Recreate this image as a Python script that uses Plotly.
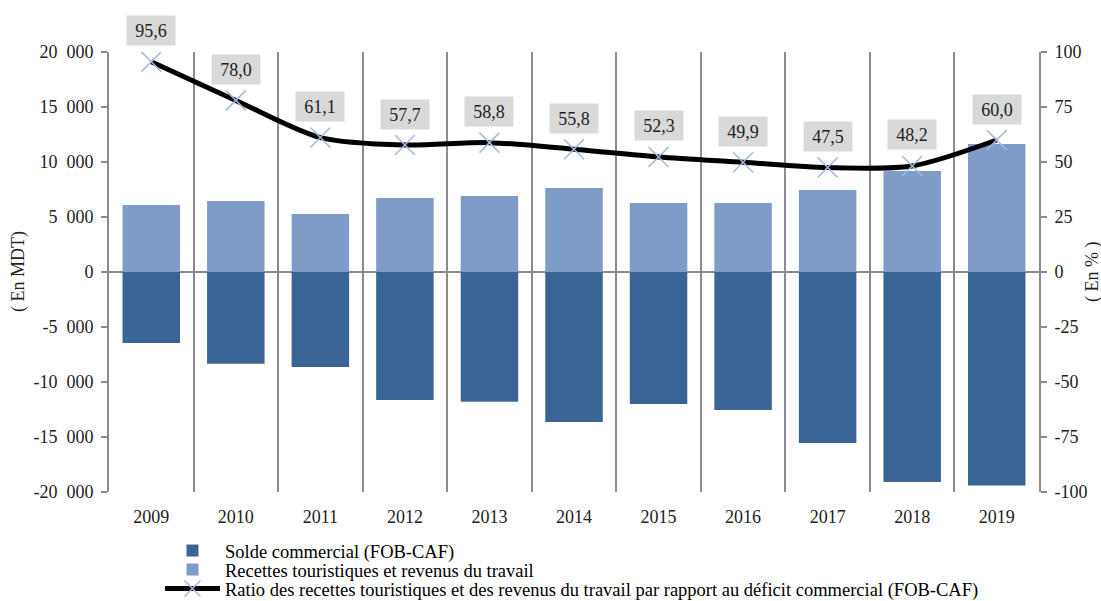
"""Balance commerciale vs recettes touristiques et revenus du travail."""

import plotly.graph_objects as go

FONT = "Liberation Serif, Times New Roman, serif"
DARK_BLUE = "#3b6496"
LIGHT_BLUE = "#7f9cc8"
CROSS_COLOR = "#a3b8dc"
AXIS_GREY = "#8c8c8c"
W, H = 1101, 601
L, R, T, B = 109, 62, 52, 109

years = ["2009", "2010", "2011", "2012", "2013", "2014",
         "2015", "2016", "2017", "2018", "2019"]
solde_commercial = [-6450, -8350, -8630, -11640, -11800, -13630,
                    -12000, -12550, -15550, -19080, -19420]
recettes = [6100, 6450, 5270, 6730, 6900, 7640,
            6270, 6280, 7450, 9180, 11640]
ratio = [95.6, 78.0, 61.1, 57.7, 58.8, 55.8, 52.3, 49.9, 47.5, 48.2, 60.0]

left_ticks = [-20000, -15000, -10000, -5000, 0, 5000, 10000, 15000, 20000]
right_ticks = [-100, -75, -50, -25, 0, 25, 50, 75, 100]


def fmt_thousands(v):
    # figure space as thousands separator, hyphen for negatives
    return f"{v:,}".replace(",", "\u2007")


fig = go.Figure()

fig.add_trace(go.Bar(
    x=years, y=solde_commercial, name="Solde commercial (FOB-CAF)",
    marker=dict(color=DARK_BLUE, line=dict(width=0)), width=0.68,
    legend="legend",
))
fig.add_trace(go.Bar(
    x=years, y=recettes, name="Recettes touristiques et revenus du travail",
    marker=dict(color=LIGHT_BLUE, line=dict(width=0)), width=0.68,
    legend="legend2",
))
fig.add_trace(go.Scatter(
    x=years, y=ratio, yaxis="y2", mode="lines+markers",
    name="Ratio des recettes touristiques et des revenus du travail par rapport au déficit commercial (FOB-CAF)",
    line=dict(color="black", width=5, shape="spline", smoothing=0.8),
    marker=dict(symbol="x-thin", size=20, line=dict(color=CROSS_COLOR, width=1.5)),
    legend="legend3",
))

# category axis: annotations take the category index
for i, r in enumerate(ratio):
    fig.add_annotation(
        x=i, y=r, yref="y2", text=f"{r:.1f}".replace(".", ","),
        showarrow=False, yshift=31, bgcolor="#d9d9d9", width=46, height=27,
        font=dict(family=FONT, size=18, color="#222"),
    )

# axis titles placed like the original (pixel x -> paper x)
for px, label in [(18, "( En MDT)"), (1092, "( En % )")]:
    fig.add_annotation(
        x=(px - L) / (W - L - R), y=0.5, xref="paper", yref="paper", text=label,
        textangle=-90, showarrow=False, xanchor="center", yanchor="middle",
        font=dict(size=18),
    )

legend_common = dict(
    xref="container", yref="container", xanchor="left", yanchor="middle",
    font=dict(size=18.5, color="black"), itemwidth=55, bgcolor="rgba(0,0,0,0)",
)
fig.update_layout(
    width=W, height=H,
    margin=dict(l=L, r=R, t=T, b=B, autoexpand=False),
    plot_bgcolor="white", paper_bgcolor="white",
    barmode="relative",
    font=dict(family=FONT, size=18, color="#222"),
    xaxis=dict(
        type="category", tickson="boundaries", showgrid=True,
        gridcolor=AXIS_GREY, gridwidth=2, ticks="", showline=False,
        ticklabelstandoff=12, zeroline=False, range=[-0.5, 10.5],
        automargin=False,
    ),
    yaxis=dict(
        range=[-20000, 20000], tickvals=left_ticks,
        ticktext=[fmt_thousands(v) for v in left_ticks],
        showgrid=False, zeroline=True, zerolinecolor=AXIS_GREY, zerolinewidth=2,
        showline=True, linecolor=AXIS_GREY, linewidth=2,
        ticks="outside", ticklen=6, tickcolor=AXIS_GREY, tickwidth=2,
        ticklabelstandoff=4, automargin=False,
    ),
    yaxis2=dict(
        range=[-100, 100], tickvals=right_ticks,
        ticktext=[str(v) for v in right_ticks],
        overlaying="y", side="right", showgrid=False, zeroline=False,
        showline=True, linecolor=AXIS_GREY, linewidth=2,
        ticks="outside", ticklen=6, tickcolor=AXIS_GREY, tickwidth=2,
        ticklabelstandoff=4, automargin=False,
    ),
    legend=dict(x=160 / W, y=1 - 551 / H, **legend_common),
    legend2=dict(x=160 / W, y=1 - 570 / H, **legend_common),
    legend3=dict(x=160 / W, y=1 - 589 / H, **legend_common),
    showlegend=True,
)

fig.write_html("out.html", config={"displayModeBar": False},
               post_script="document.body.style.margin = '0';")
